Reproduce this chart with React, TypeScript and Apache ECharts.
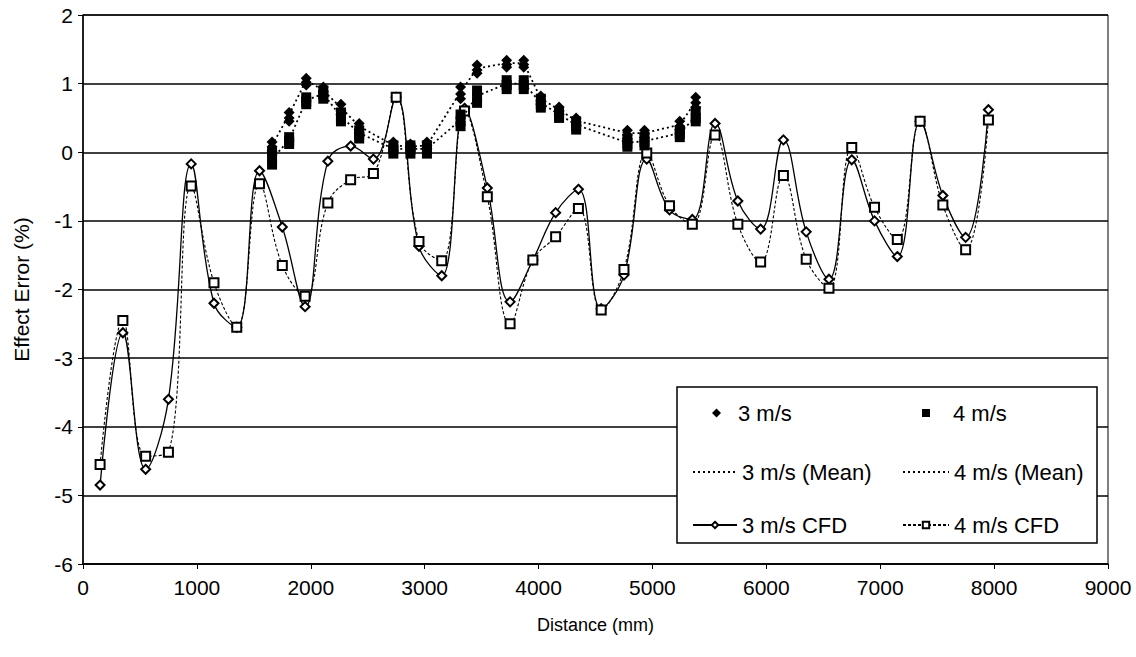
import React, { useEffect, useRef } from "react";
import * as echarts from "echarts";

const FONT = 'Arial, "Liberation Sans", sans-serif';

// Distance positions (mm)
const cfdX = [150, 350, 550, 750, 950, 1150, 1350, 1550, 1750, 1950, 2150, 2350, 2550, 2750, 2950, 3150, 3350, 3550, 3750, 3950, 4150, 4350, 4550, 4750, 4950, 5150, 5350, 5550, 5750, 5950, 6150, 6350, 6550, 6750, 6950, 7150, 7350, 7550, 7750, 7950];
const expX = [1660, 1810, 1960, 2110, 2265, 2425, 2725, 2875, 3020, 3315, 3460, 3720, 3870, 4020, 4180, 4330, 4780, 4930, 5240, 5380];

// CFD results (%)
const cfd3 = [-4.85, -2.63, -4.62, -3.6, -0.17, -2.2, -2.55, -0.27, -1.09, -2.25, -0.13, 0.09, -0.1, 0.8, -1.37, -1.8, 0.64, -0.52, -2.18, -1.57, -0.88, -0.54, -2.28, -1.79, -0.1, -0.84, -0.98, 0.42, -0.71, -1.12, 0.18, -1.16, -1.85, -0.11, -1.0, -1.52, 0.45, -0.63, -1.24, 0.62];
const cfd4 = [-4.55, -2.45, -4.43, -4.37, -0.49, -1.9, -2.55, -0.46, -1.65, -2.1, -0.74, -0.4, -0.31, 0.8, -1.3, -1.58, 0.6, -0.65, -2.5, -1.57, -1.23, -0.82, -2.3, -1.71, -0.01, -0.78, -1.05, 0.25, -1.05, -1.6, -0.34, -1.56, -1.98, 0.07, -0.8, -1.27, 0.45, -0.77, -1.42, 0.47];

// Measured runs, 3 m/s (%)
const m3run1 = [0.15, 0.58, 1.08, 0.95, 0.7, 0.42, 0.15, 0.12, 0.15, 0.95, 1.27, 1.34, 1.34, 0.82, 0.66, 0.5, 0.32, 0.32, 0.45, 0.8];
const m3run2 = [0.08, 0.5, 1.02, 0.88, 0.6, 0.33, 0.08, 0.07, 0.1, 0.85, 1.2, 1.28, 1.28, 0.75, 0.6, 0.44, 0.25, 0.27, 0.38, 0.72];
const m3run3 = [0.02, 0.45, 0.98, 0.82, 0.55, 0.28, 0.02, 0.02, 0.05, 0.78, 1.15, 1.24, 1.24, 0.7, 0.55, 0.4, 0.2, 0.22, 0.33, 0.65];
// Measured runs, 4 m/s (%)
const m4run1 = [0.0, 0.22, 0.8, 0.9, 0.58, 0.32, 0.1, 0.1, 0.1, 0.55, 0.9, 1.05, 1.05, 0.78, 0.6, 0.45, 0.2, 0.22, 0.32, 0.6];
const m4run2 = [-0.08, 0.16, 0.74, 0.84, 0.5, 0.25, 0.04, 0.04, 0.04, 0.45, 0.8, 0.98, 0.98, 0.7, 0.55, 0.38, 0.12, 0.15, 0.27, 0.5];
const m4run3 = [-0.18, 0.12, 0.7, 0.78, 0.45, 0.2, -0.02, -0.02, -0.02, 0.38, 0.72, 0.92, 0.92, 0.65, 0.5, 0.33, 0.08, 0.1, 0.22, 0.45];

// Means (%)
const mean3 = [0.1, 0.55, 1.05, 0.9, 0.65, 0.38, 0.1, 0.08, 0.1, 0.88, 1.22, 1.3, 1.3, 0.78, 0.62, 0.46, 0.28, 0.28, 0.4, 0.74];
const mean4 = [-0.1, 0.18, 0.76, 0.85, 0.52, 0.28, 0.05, 0.05, 0.05, 0.47, 0.82, 1.0, 1.0, 0.72, 0.55, 0.4, 0.14, 0.16, 0.28, 0.52];

const pairs = (xs: number[], ys: number[]) => xs.map((x, i) => [x, ys[i]]);
const runs = (xs: number[], rs: number[][]) => rs.flatMap((r) => pairs(xs, r));

export default function App() {
  const ref = useRef<HTMLDivElement>(null);
  useEffect(() => {
    if (!ref.current) return;
    const chart = echarts.init(ref.current, null, { renderer: "svg" });
    const legendText = { color: "#000", fontFamily: FONT, fontSize: 22, lineHeight: 22 };
    chart.setOption({
      animation: false,
      backgroundColor: "#fff",
      grid: { left: 83, right: 28, top: 15, bottom: 93, show: true, borderColor: "#000", borderWidth: 1 },
      xAxis: {
        type: "value",
        min: 0,
        max: 9000,
        interval: 1000,
        name: "Distance (mm)",
        nameLocation: "middle",
        nameGap: 52,
        nameTextStyle: { color: "#000", fontFamily: FONT, fontSize: 18 },
        axisLine: { show: true, onZero: false, lineStyle: { color: "#000", width: 1.5 } },
        axisTick: { show: true, length: 5, lineStyle: { color: "#000" } },
        axisLabel: { color: "#000", fontFamily: FONT, fontSize: 21, margin: 13, formatter: (v: number) => String(v) },
        splitLine: { show: false },
      },
      yAxis: {
        type: "value",
        min: -6,
        max: 2,
        interval: 1,
        name: "Effect Error (%)",
        nameLocation: "middle",
        nameGap: 51,
        nameRotate: 90,
        nameTextStyle: { color: "#000", fontFamily: FONT, fontSize: 21 },
        axisLine: { show: true, onZero: false, lineStyle: { color: "#000", width: 1.5 } },
        axisTick: { show: true, length: 5, lineStyle: { color: "#000" } },
        axisLabel: { color: "#000", fontFamily: FONT, fontSize: 21, margin: 10 },
        splitLine: { show: true, lineStyle: { color: "#000", width: 1.5 } },
      },
      legend: [
        {
          left: 712,
          top: 402,
          padding: 0,
          itemWidth: 9,
          itemHeight: 9,
          itemStyle: { opacity: 1, color: "#000" },
          textStyle: { ...legendText, padding: [0, 0, 0, 12] },
          data: [{ name: "3 m/s" }],
        },
        {
          left: 922,
          top: 402,
          padding: 0,
          itemWidth: 8,
          itemHeight: 8,
          itemStyle: { opacity: 1, color: "#000" },
          textStyle: { ...legendText, padding: [0, 0, 0, 18] },
          data: [{ name: "4 m/s" }],
        },
        {
          left: 692,
          top: 461,
          padding: 0,
          orient: "vertical",
          itemWidth: 44,
          itemHeight: 8,
          itemGap: 31,
          textStyle: legendText,
          data: [
            { name: "3 m/s (Mean)", itemStyle: { opacity: 0 } },
            { name: "3 m/s CFD" },
          ],
        },
        {
          left: 902,
          top: 461,
          padding: 0,
          orient: "vertical",
          itemWidth: 46,
          itemHeight: 8,
          itemGap: 31,
          textStyle: legendText,
          data: [
            { name: "4 m/s (Mean)", itemStyle: { opacity: 0 } },
            { name: "4 m/s CFD" },
          ],
        },
      ],
      graphic: [
        {
          type: "rect",
          z: 3,
          shape: { x: 677, y: 387, width: 420, height: 156 },
          style: { fill: "#fff", stroke: "#000", lineWidth: 1.5 },
        },
      ],
      series: [
        {
          name: "3 m/s CFD",
          type: "line",
          data: pairs(cfdX, cfd3),
          smooth: 0.4,
          symbol: "emptyDiamond",
          symbolSize: 9,
          color: "#000",
          lineStyle: { color: "#000", width: 1.3 },
          itemStyle: { color: "#000", borderColor: "#000", borderWidth: 1.5 },
          z: 2,
        },
        {
          name: "4 m/s CFD",
          type: "line",
          data: pairs(cfdX, cfd4),
          smooth: 0.4,
          symbol: "emptyRect",
          symbolSize: 9,
          color: "#000",
          lineStyle: { color: "#000", width: 1.1, type: [3, 2] },
          itemStyle: { color: "#000", borderColor: "#000", borderWidth: 1.5 },
          z: 2,
        },
        {
          name: "3 m/s (Mean)",
          type: "line",
          data: pairs(expX, mean3),
          symbol: "none",
          color: "#000",
          lineStyle: { color: "#000", width: 1.8, type: [2, 3] },
          z: 3,
        },
        {
          name: "4 m/s (Mean)",
          type: "line",
          data: pairs(expX, mean4),
          symbol: "none",
          color: "#000",
          lineStyle: { color: "#000", width: 1.8, type: [2, 3] },
          z: 3,
        },
        {
          name: "3 m/s",
          type: "scatter",
          data: runs(expX, [m3run1, m3run2, m3run3]),
          symbol: "diamond",
          symbolSize: 11,
          color: "#000",
          itemStyle: { color: "#000", opacity: 1 },
          z: 4,
        },
        {
          name: "4 m/s",
          type: "scatter",
          data: runs(expX, [m4run1, m4run2, m4run3]),
          symbol: "rect",
          symbolSize: 10,
          color: "#000",
          itemStyle: { color: "#000", opacity: 1 },
          z: 4,
        },
      ],
    });
    return () => chart.dispose();
  }, []);
  return (
    <div
      ref={ref}
      style={{ position: "fixed", left: 0, top: 0, width: 1136, height: 657, background: "#fff" }}
    />
  );
}
